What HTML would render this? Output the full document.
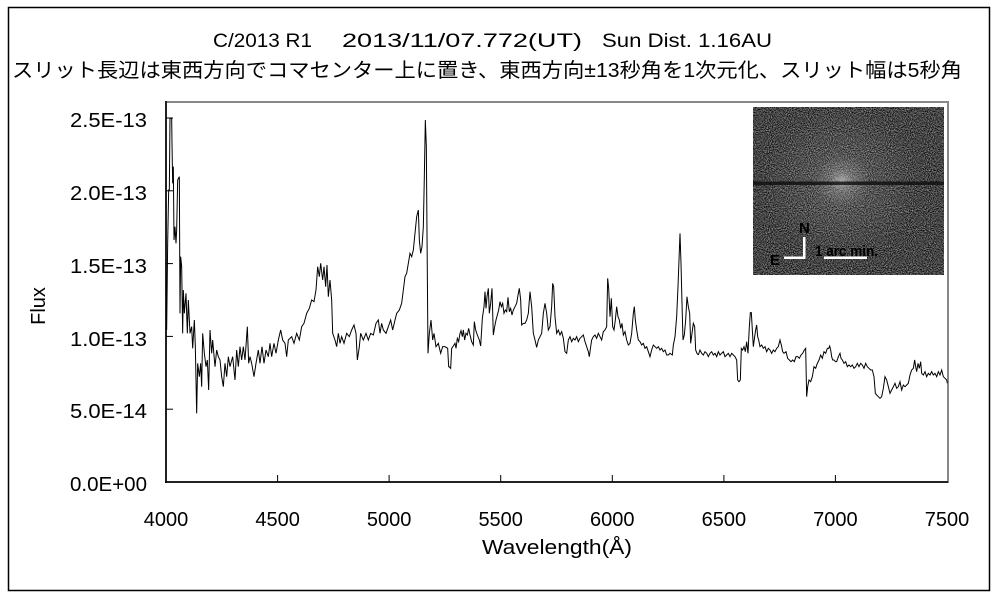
<!DOCTYPE html>
<html><head><meta charset="utf-8"><style>
html,body{margin:0;padding:0;background:#fff;}
svg{display:block;}
text{font-family:"Liberation Sans","Noto Sans CJK JP",sans-serif;fill:#000;}
</style></head><body>
<svg width="1000" height="600" viewBox="0 0 1000 600" xmlns="http://www.w3.org/2000/svg">
<defs>
<filter id="nz" x="0" y="0" width="100%" height="100%" color-interpolation-filters="sRGB">
<feTurbulence type="fractalNoise" baseFrequency="0.95" numOctaves="1" seed="7"/>
<feColorMatrix type="matrix" values="1.2 0 0 0 -0.33  1.2 0 0 0 -0.33  1.2 0 0 0 -0.33  0 0 0 0 1"/>
</filter>
<radialGradient id="g1" cx="0.5" cy="0.5" r="0.5">
<stop offset="0" stop-color="#fff" stop-opacity="0.45"/>
<stop offset="0.4" stop-color="#fff" stop-opacity="0.15"/>
<stop offset="1" stop-color="#fff" stop-opacity="0"/>
</radialGradient>
<radialGradient id="g2" cx="0.5" cy="0.5" r="0.5">
<stop offset="0" stop-color="#fff" stop-opacity="0.14"/>
<stop offset="1" stop-color="#fff" stop-opacity="0"/>
</radialGradient>
</defs>
<rect x="0" y="0" width="1000" height="600" fill="#fff"/>
<rect x="8.5" y="7.5" width="981" height="583" fill="none" stroke="#000" stroke-width="1.5"/>

<!-- titles -->
<text x="213" y="47" font-size="19" textLength="99" lengthAdjust="spacingAndGlyphs">C/2013 R1</text>
<text x="342" y="47" font-size="19" textLength="240" lengthAdjust="spacingAndGlyphs">2013/11/07.772(UT)</text>
<text x="602" y="47" font-size="19" textLength="170" lengthAdjust="spacingAndGlyphs">Sun Dist. 1.16AU</text>
<text x="12" y="77" font-size="20" textLength="950" lengthAdjust="spacingAndGlyphs">スリット長辺は東西方向でコマセンター上に置き、東西方向±13秒角を1次元化、スリット幅は5秒角</text>

<!-- plot frame -->
<rect x="166" y="102" width="782" height="380" fill="none" stroke="#888" stroke-width="2"/>
<line x1="166" y1="101" x2="166" y2="483" stroke="#000" stroke-width="1.5"/>
<line x1="165" y1="482" x2="948" y2="482" stroke="#000" stroke-width="1.5"/>

<!-- ticks -->
<g stroke="#000" stroke-width="1">
<line x1="166" y1="409.2" x2="173" y2="409.2"/>
<line x1="166" y1="336.4" x2="173" y2="336.4"/>
<line x1="166" y1="263.6" x2="173" y2="263.6"/>
<line x1="166" y1="190.8" x2="173" y2="190.8"/>
<line x1="166" y1="118" x2="173" y2="118"/>
<line x1="277.6" y1="482" x2="277.6" y2="475"/>
<line x1="389.1" y1="482" x2="389.1" y2="475"/>
<line x1="500.7" y1="482" x2="500.7" y2="475"/>
<line x1="612.3" y1="482" x2="612.3" y2="475"/>
<line x1="723.9" y1="482" x2="723.9" y2="475"/>
<line x1="835.4" y1="482" x2="835.4" y2="475"/>
</g>

<!-- y labels -->
<g font-size="20" text-anchor="end">
<text x="147" y="127" textLength="77" lengthAdjust="spacingAndGlyphs">2.5E-13</text>
<text x="147" y="200" textLength="77" lengthAdjust="spacingAndGlyphs">2.0E-13</text>
<text x="147" y="273" textLength="77" lengthAdjust="spacingAndGlyphs">1.5E-13</text>
<text x="147" y="346" textLength="77" lengthAdjust="spacingAndGlyphs">1.0E-13</text>
<text x="147" y="418" textLength="77" lengthAdjust="spacingAndGlyphs">5.0E-14</text>
<text x="147" y="491" textLength="77" lengthAdjust="spacingAndGlyphs">0.0E+00</text>
</g>
<!-- x labels -->
<g font-size="20" text-anchor="middle">
<text x="166" y="526">4000</text>
<text x="277.6" y="526">4500</text>
<text x="389.1" y="526">5000</text>
<text x="500.7" y="526">5500</text>
<text x="612.3" y="526">6000</text>
<text x="723.9" y="526">6500</text>
<text x="835.4" y="526">7000</text>
<text x="947" y="526">7500</text>
</g>
<text x="482" y="554" font-size="20" textLength="150" lengthAdjust="spacingAndGlyphs">Wavelength(Å)</text>
<text transform="translate(45,306) rotate(-90)" font-size="20" text-anchor="middle">Flux</text>

<!-- inset image -->
<rect x="753" y="107" width="191" height="168" fill="#3a3a3a"/>
<rect x="753" y="107" width="191" height="168" filter="url(#nz)"/>
<ellipse cx="842" cy="182" rx="80" ry="75" fill="url(#g2)"/>
<ellipse cx="842" cy="181" rx="28" ry="26" fill="url(#g1)"/>
<rect x="753" y="181.5" width="191" height="3.5" fill="#0e0e0e" opacity="0.8"/>
<g fill="#fff" font-weight="bold">
<text x="799" y="233" font-size="15" font-family="Liberation Sans,sans-serif">N</text>
<text x="770" y="265" font-size="15" font-family="Liberation Sans,sans-serif">E</text>
<text x="815" y="256" font-size="15" textLength="63" lengthAdjust="spacingAndGlyphs" font-family="Liberation Sans,sans-serif">1 arc min.</text>
<rect x="803" y="237" width="2.5" height="22"/>
<rect x="784" y="256.5" width="21" height="2.5"/>
<rect x="824" y="256.5" width="43" height="2.5"/>
</g>

<!-- spectrum segment 1 -->
<g transform="translate(150,100) scale(0.333333)">
<polyline fill="none" stroke="#000" stroke-width="1" vector-effect="non-scaling-stroke" stroke-linejoin="miter" points="
48,620 48,490 50,690 53,430 56,270 58,270 60,55 65,55 66,130 68,250 70,200 72,420 75,380 78,430 80,390 83,240 88,230 90,640 92,470 95,500 98,700 100,570 103,640 108,580 112,700 115,600 120,700 125,680 128,745 133,660 136,740 140,940 143,790 148,830 152,790 155,860 158,700 163,760 168,800 172,780 176,870 180,690 185,760 188,720 195,800 200,750 205,770 210,780 215,830 220,860 225,790 230,830 235,770 240,800 248,770 255,840 260,750 265,800 270,740 275,780 280,740 285,780 292,680 296,790 300,770 305,790 312,830 318,790 325,750 330,790 336,740 342,790 348,750 355,770 360,730 365,770 372,730 378,760 385,720 392,690 398,720 405,730 410,770 415,720 425,710 432,730 440,700 448,720 455,680 462,670 470,640 478,625 485,600 492,605 498,570 503,500 508,530 512,490 518,540 522,500 527,560 531,495 535,590 540,540 545,600 548,700 555,720 560,740 565,700 570,730 575,710 582,730 590,700 598,710 605,690 612,675 618,700 622,780 628,740 632,700 640,720 648,700 655,720 662,700 670,705 678,670 685,660 690,700 695,670 700,690 708,700 715,680 722,660 728,690 735,660 740,640 748,630 755,610 760,570 765,530 770,520 775,490 780,460 785,470 790,450 795,400 800,350 805,330 808,420 812,460 816,440 820,380 823,230 826,60 829,140 831,400 834,760 838,700 843,660 848,720 852,700 858,740 865,730 872,760 878,740 885,740 893,745 896,800 897,800"/>
</g>
<!-- spectrum segment 2 -->
<g transform="translate(440,220) scale(0.333333)">
<polyline fill="none" stroke="#000" stroke-width="1" vector-effect="non-scaling-stroke" points="
26,440 27,440 32,445 35,385 40,378 45,370 48,385 52,355 56,365 60,340 63,332 67,350 70,330 74,360 78,340 82,345 86,325 90,345 95,365 100,375 103,305 107,330 112,345 118,360 122,378 127,295 132,260 135,215 138,265 141,230 145,205 148,280 152,250 156,205 160,345 164,320 168,300 172,285 176,270 180,245 184,260 188,250 192,280 196,270 200,275 204,232 208,275 212,265 216,285 220,270 225,260 230,250 235,220 238,205 242,240 245,315 250,310 255,310 260,300 265,280 270,215 275,260 280,340 285,360 290,382 295,360 300,350 305,340 310,280 315,250 320,280 325,330 330,320 335,260 338,190 341,200 345,290 350,340 355,330 360,345 365,335 370,355 375,395 380,400 385,360 390,350 395,365 400,355 405,360 410,350 415,365 420,355 425,350 430,345 435,365 440,380 445,395 448,410 452,380 455,360 460,350 465,345 470,355 475,340 480,350 485,360 490,335 495,330 500,320 503,175 506,205 510,290 514,235 518,320 522,330 526,300 530,260 534,290 538,300 542,325 546,310 550,345 555,335 560,360 565,375 570,370 575,340 580,280 583,260 586,300 590,330 595,360 600,365 605,375 610,370 615,385 620,380 625,395 630,410 635,390 640,375 645,380 650,385 655,380 660,390 665,385 670,395 675,390 680,405 685,405 690,400 697,405 700,375 705,350 710,290 714,200 717,120 720,40 723,130 726,250 729,360 733,345 737,300 741,230 745,260 749,280 752,370 756,340 760,310 764,320 767,390 771,400 775,405"/>
</g>
<!-- spectrum segment 3 -->
<g transform="translate(690,220) scale(0.333333)">
<polyline fill="none" stroke="#000" stroke-width="1" vector-effect="non-scaling-stroke" points="
25,405 30,390 35,400 40,405 45,395 50,400 55,410 60,400 65,395 70,405 75,400 80,410 85,395 90,405 95,400 100,395 105,410 110,405 115,400 120,410 125,400 130,405 135,410 140,420 143,480 147,485 151,480 154,385 158,390 162,380 166,395 170,365 174,400 178,320 181,278 184,278 187,330 190,380 194,350 197,330 200,315 203,350 206,360 210,380 215,375 220,385 225,380 230,395 235,385 240,390 245,400 250,390 255,395 260,385 265,380 270,360 274,375 278,395 282,400 288,395 293,415 298,420 303,425 308,420 313,425 318,410 323,410 328,415 333,405 338,400 343,390 347,385 350,530 353,500 357,480 362,485 367,470 372,440 377,445 382,430 387,420 392,405 397,415 402,395 407,400 412,385 416,385 419,378 422,390 425,410 428,420 432,420 436,425 440,425 445,410 450,400 453,415 457,420 462,430 467,425 472,440 477,435 482,440 487,435 492,445 497,440 502,430 507,440 512,430 517,435 522,445 527,430 532,440 537,445 542,450 547,450 552,470 556,520 560,525 565,530 570,535 575,530 580,505 585,470 590,480 595,500 600,520 605,510 610,500 615,490 620,505 625,500 630,485 635,510 640,495 645,500 650,495 655,490 660,465 665,450 670,445 674,420 677,440 680,455 684,430 688,445 692,425 695,460 700,465 705,455 710,470 715,460 720,465 725,455 730,465 735,460 740,470 745,455 750,465 755,450 760,470 765,475 770,480 772,490"/>
</g>
</svg>
</body></html>
